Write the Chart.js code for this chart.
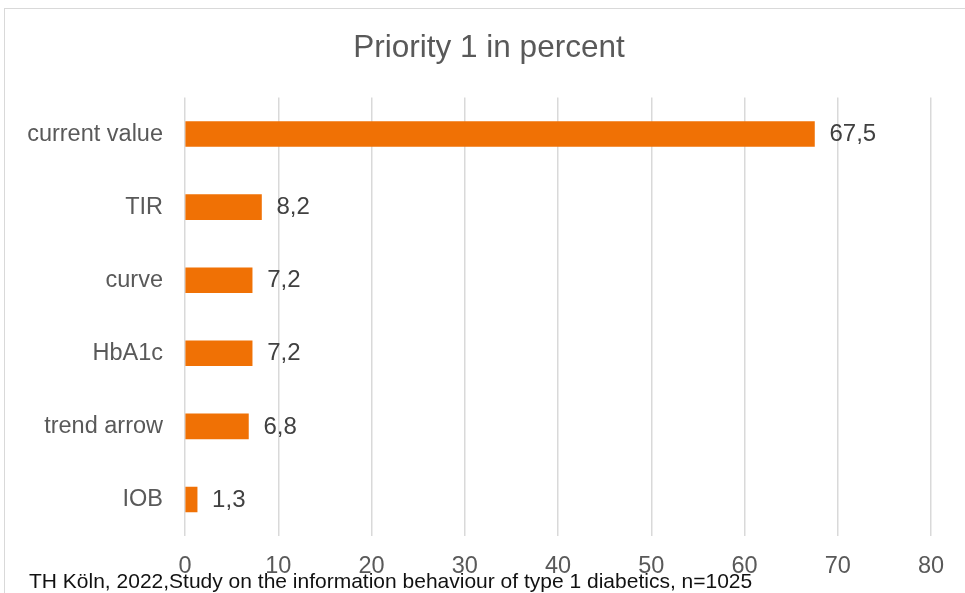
<!DOCTYPE html>
<html>
<head>
<meta charset="utf-8">
<script src="https://cdn.jsdelivr.net/npm/chart.js@4/dist/chart.umd.min.js"></script>
<style>
  body { margin: 0; background: #fff; }
  #frame { position: absolute; left: 4px; top: 8px; width: 980px; height: 600px; border: 1px solid #d9d9d9; }
  #wrap { position: absolute; left: 0; top: 0; width: 965px; height: 593px; }
</style>
</head>
<body>
<div id="frame"></div>
<div id="wrap"><canvas id="priorityChart"></canvas></div>
<script>
const categories = ['current value', 'TIR', 'curve', 'HbA1c', 'trend arrow', 'IOB'];
const percentValues = [67.5, 8.2, 7.2, 7.2, 6.8, 1.3];
const xTicks = [0, 10, 20, 30, 40, 50, 60, 70, 80];
const chartTitle = 'Priority 1 in percent';
const footerNote = 'TH Köln, 2022,Study on the information behaviour of type 1 diabetics, n=1025';

const FONT = '"Liberation Sans", Arial, sans-serif';

// value labels next to bars, title (centred like the original) and source note
const extrasPlugin = {
    id: 'extras',
    afterDatasetsDraw(chart) {
        const ctx = chart.ctx;
        const meta = chart.getDatasetMeta(0);
        ctx.save();
        ctx.font = '24px ' + FONT;
        ctx.fillStyle = '#404040';
        ctx.textAlign = 'left';
        ctx.textBaseline = 'middle';
        meta.data.forEach((bar, i) => {
            const txt = percentValues[i].toFixed(1).replace('.', ',');
            ctx.fillText(txt, bar.x + 15, bar.y + 0.5);
        });
        ctx.restore();
    },
    afterDraw(chart) {
        const ctx = chart.ctx;
        ctx.save();
        ctx.textBaseline = 'alphabetic';
        ctx.font = '31.5px ' + FONT;
        ctx.fillStyle = '#595959';
        ctx.textAlign = 'center';
        ctx.fillText(chartTitle, 489, 57);
        ctx.font = '21px ' + FONT;
        ctx.fillStyle = '#111';
        ctx.textAlign = 'left';
        ctx.fillText(footerNote, 29, 588);
        ctx.restore();
    }
};

new Chart(document.getElementById('priorityChart').getContext('2d'), {
    type: 'bar',
    data: {
        labels: categories,
        datasets: [{
            data: percentValues,
            backgroundColor: '#f07105',
            barThickness: 25
        }]
    },
    options: {
        indexAxis: 'y',
        responsive: true,
        maintainAspectRatio: false,
        animation: false,
        layout: { padding: { left: 0, right: 34, top: 97.5, bottom: 0 } },
        plugins: {
            legend: { display: false },
            tooltip: { enabled: false },
            title: { display: false }
        },
        scales: {
            x: {
                min: 0,
                max: 80,
                afterBuildTicks(scale) { scale.ticks = xTicks.map(v => ({ value: v })); },
                afterFit(scale) { scale.height = 57; },
                grid: { color: '#d9d9d9', lineWidth: 1.5, drawTicks: false },
                border: { display: false },
                ticks: {
                    color: '#595959',
                    padding: 16,
                    font: { family: FONT, size: 23.5 }
                }
            },
            y: {
                grid: { display: false, drawTicks: false },
                border: { display: false },
                afterFit(scale) { scale.width = 185; },
                ticks: {
                    color: '#595959',
                    padding: 22,
                    font: { family: FONT, size: 23.5 }
                }
            }
        }
    },
    plugins: [extrasPlugin]
});
</script>
</body>
</html>
